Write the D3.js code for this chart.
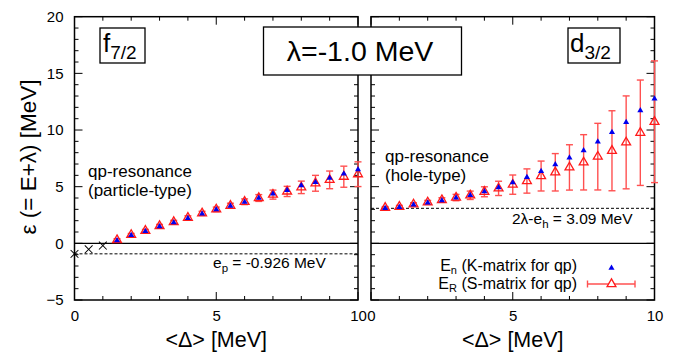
<!DOCTYPE html>
<html>
<head>
<meta charset="utf-8">
<script src="https://cdn.jsdelivr.net/npm/d3@7"></script>
<style>
  html, body { margin: 0; padding: 0; background: #fff; }
  svg { display: block; font-family: "Liberation Sans", Arial, Helvetica, sans-serif; }
</style>
</head>
<body>
<svg id="chart" width="689" height="354"></svg>
<script>
// ---- data -------------------------------------------------------------
// f7/2 panel: bound-state points below threshold (crosses)
const fBoundDelta = [0, 0.5, 1.0];
const fBoundEps   = [-0.93, -0.53, -0.2];

// f7/2 panel: qp-resonance (particle-type)
const fDelta = [1.5, 2.0, 2.5, 3.0, 3.5, 4.0, 4.5, 5.0, 5.5, 6.0, 6.5, 7.0, 7.5, 8.0, 8.5, 9.0, 9.5, 10.0];
const fEn    = [0.29, 0.75, 1.11, 1.53, 1.88, 2.26, 2.65, 3.02, 3.35, 3.70, 4.04, 4.41, 4.72, 5.15, 5.44, 5.80, 6.18, 6.56];
const fER    = [0.29, 0.75, 1.11, 1.53, 1.88, 2.26, 2.65, 3.00, 3.32, 3.67, 4.00, 4.30, 4.58, 4.94, 5.30, 5.60, 5.88, 6.10];
const fErr   = [0.12, 0.12, 0.12, 0.14, 0.15, 0.17, 0.18, 0.20, 0.22, 0.25, 0.30, 0.40, 0.45, 0.55, 0.70, 0.78, 0.93, 1.09];

// d3/2 panel: qp-resonance (hole-type)
const dDelta = [0.5, 1.0, 1.5, 2.0, 2.5, 3.0, 3.5, 4.0, 4.5, 5.0, 5.5, 6.0, 6.5, 7.0, 7.5, 8.0, 8.5, 9.0, 9.5, 10.0];
const dEn    = [3.14, 3.23, 3.44, 3.62, 3.82, 4.06, 4.28, 4.62, 4.98, 5.42, 5.88, 6.41, 7.00, 7.59, 8.23, 9.00, 9.85, 10.73, 11.76, 12.80];
const dER    = [3.14, 3.23, 3.44, 3.62, 3.82, 4.04, 4.24, 4.55, 4.85, 5.18, 5.50, 5.94, 6.27, 6.70, 7.15, 7.65, 8.17, 8.91, 9.76, 10.73];
const dErr   = [0.10, 0.12, 0.14, 0.17, 0.20, 0.28, 0.37, 0.44, 0.63, 0.85, 1.07, 1.32, 1.65, 2.00, 2.44, 2.94, 3.53, 4.10, 4.65, 5.37];

// reference levels
const epLevel = -0.926;     // e_p
const holeLevel = 3.09;     // 2λ - e_h

// axes
const xDomain = [0, 10];
const yDomain = [-5, 20];
const xMajorTicks = [0, 5, 10];
const yMajorTicks = [-5, 0, 5, 10, 15, 20];
const xMinorTicks = [0, 1, 2, 3, 4, 5, 6, 7, 8, 9, 10];
const yMinorTicks = [-5, -4, -3, -2, -1, 0, 1, 2, 3, 4, 5, 6, 7, 8, 9, 10, 11, 12, 13, 14, 15, 16, 17, 18, 19, 20];

// ---- layout -----------------------------------------------------------
const svg = d3.select("#chart");
const RED = "#ff1a1a";
const BAR = "#ff5050";
const BLUE = "#0000ee";

const y = d3.scaleLinear().domain(yDomain).range([300, 16.7]);
const xL = d3.scaleLinear().domain(xDomain).range([74.5, 358]);
const xR = d3.scaleLinear().domain(xDomain).range([371, 654.5]);

const tri = (size) => d3.symbol().type(d3.symbolTriangle).size(size);

function frame(x, leftLabels) {
  const g = svg.append("g");
  const [x0, x1] = x.range();
  const [y0, y1] = y.range();
  // inward ticks on all four sides
  const tk = g.append("g").attr("stroke", "#000").attr("stroke-width", 1);
  yMinorTicks.forEach(v => {
    const len = yMajorTicks.includes(v) ? 8 : 4;
    tk.append("line").attr("x1", x0).attr("x2", x0 + len).attr("y1", y(v)).attr("y2", y(v));
    tk.append("line").attr("x1", x1).attr("x2", x1 - len).attr("y1", y(v)).attr("y2", y(v));
  });
  xMinorTicks.forEach(v => {
    const len = xMajorTicks.includes(v) ? 8 : 4;
    tk.append("line").attr("x1", x(v)).attr("x2", x(v)).attr("y1", y0).attr("y2", y0 - len);
    tk.append("line").attr("x1", x(v)).attr("x2", x(v)).attr("y1", y1).attr("y2", y1 + len);
  });
  // tick labels via d3 axes (tick lines hidden, labels only)
  const xa = g.append("g").attr("transform", `translate(0,${y0})`)
    .call(d3.axisBottom(x).tickValues(xMajorTicks).tickFormat(d3.format("d")).tickSize(0).tickPadding(10));
  xa.select(".domain").remove();
  xa.selectAll("text").attr("font-size", 15).attr("fill", "#000").attr("font-family", "Liberation Sans, Arial, sans-serif");
  if (leftLabels) {
    const ya = g.append("g").attr("transform", `translate(${x0},0)`)
      .call(d3.axisLeft(y).tickValues(yMajorTicks).tickFormat(d3.format("d")).tickSize(0).tickPadding(11));
    ya.select(".domain").remove();
    ya.selectAll("text").attr("font-size", 15).attr("fill", "#000").attr("font-family", "Liberation Sans, Arial, sans-serif");
  }
  // zero line
  g.append("line").attr("x1", x0).attr("x2", x1).attr("y1", y(0)).attr("y2", y(0))
    .attr("stroke", "#000").attr("stroke-width", 1.2);
  // frame
  g.append("rect").attr("x", x0).attr("y", y1).attr("width", x1 - x0).attr("height", y0 - y1)
    .attr("fill", "none").attr("stroke", "#000").attr("stroke-width", 1.5);
  // x-axis title
  g.append("text").attr("x", (x0 + x1) / 2).attr("y", 347).attr("text-anchor", "middle")
    .attr("font-size", 21.5).text("<Δ> [MeV]");
  return g;
}

function series(g, x, xs, en, er, err) {
  // error bars
  const eb = g.append("g").attr("stroke", BAR).attr("stroke-width", 1.4).attr("fill", "none");
  xs.forEach((d, i) => {
    const cx = x(d), top = y(er[i] + err[i]), bot = y(er[i] - err[i]);
    eb.append("line").attr("x1", cx).attr("x2", cx).attr("y1", top).attr("y2", bot);
    eb.append("line").attr("x1", cx - 3.5).attr("x2", cx + 3.5).attr("y1", top).attr("y2", top);
    eb.append("line").attr("x1", cx - 3.5).attr("x2", cx + 3.5).attr("y1", bot).attr("y2", bot);
  });
  // S-matrix poles: open red triangles
  g.append("g").selectAll("path").data(xs).join("path")
    .attr("transform", (d, i) => `translate(${x(d)},${y(er[i])})`)
    .attr("d", tri(34)).attr("fill", "none").attr("stroke", RED).attr("stroke-width", 1.3);
  // K-matrix energies: filled blue triangles
  g.append("g").selectAll("path").data(xs).join("path")
    .attr("transform", (d, i) => `translate(${x(d)},${y(en[i]) + 0.5})`)
    .attr("d", tri(16)).attr("fill", BLUE);
}

// ---- left panel: f7/2 -------------------------------------------------
const gL = frame(xL, true);
gL.append("line").attr("x1", xL(0)).attr("x2", xL(10)).attr("y1", y(epLevel)).attr("y2", y(epLevel))
  .attr("stroke", "#000").attr("stroke-width", 1).attr("stroke-dasharray", "3,2");
series(gL, xL, fDelta, fEn, fER, fErr);
gL.append("g").selectAll("path").data(fBoundDelta).join("path")
  .attr("transform", (d, i) => `translate(${xL(d)},${y(fBoundEps[i])}) rotate(45)`)
  .attr("d", "M-5.5,0H5.5M0,-5.5V5.5").attr("stroke", "#000").attr("stroke-width", 1).attr("fill", "none");

gL.append("text").attr("x", 88).attr("y", 177).attr("font-size", 17).text("qp-resonance");
gL.append("text").attr("x", 88).attr("y", 196).attr("font-size", 17).text("(particle-type)");
const ep = gL.append("text").attr("x", 213).attr("y", 268).attr("font-size", 15.5);
ep.append("tspan").text("e");
ep.append("tspan").attr("font-size", 11.5).attr("dy", 4).text("p");
ep.append("tspan").attr("dy", -4).text(" = -0.926 MeV");

// f7/2 label box
gL.append("rect").attr("x", 100).attr("y", 28).attr("width", 45).attr("height", 35)
  .attr("fill", "#fff").attr("stroke", "#000").attr("stroke-width", 1.3);
const fl = gL.append("text").attr("x", 103).attr("y", 52).attr("font-size", 26);
fl.append("tspan").text("f");
fl.append("tspan").attr("font-size", 19).attr("dy", 7).text("7/2");

// ---- right panel: d3/2 ------------------------------------------------
const gR = frame(xR, false);
gR.append("line").attr("x1", xR(0)).attr("x2", xR(10)).attr("y1", y(holeLevel)).attr("y2", y(holeLevel))
  .attr("stroke", "#000").attr("stroke-width", 1).attr("stroke-dasharray", "3,2");
series(gR, xR, dDelta, dEn, dER, dErr);

gR.append("text").attr("x", 385).attr("y", 162).attr("font-size", 17).text("qp-resonance");
gR.append("text").attr("x", 385).attr("y", 181).attr("font-size", 17).text("(hole-type)");
const hl = gR.append("text").attr("x", 512).attr("y", 224).attr("font-size", 15.5);
hl.append("tspan").text("2λ-e");
hl.append("tspan").attr("font-size", 11.5).attr("dy", 4).text("h");
hl.append("tspan").attr("dy", -4).text(" = 3.09 MeV");

gR.append("rect").attr("x", 568).attr("y", 28).attr("width", 52).attr("height", 35)
  .attr("fill", "#fff").attr("stroke", "#000").attr("stroke-width", 1.3);
const dl = gR.append("text").attr("x", 570).attr("y", 52).attr("font-size", 26);
dl.append("tspan").text("d");
dl.append("tspan").attr("font-size", 19).attr("dy", 7).text("3/2");

// legend
const lg = gR.append("g");
const l1 = lg.append("text").attr("x", 577).attr("y", 271).attr("text-anchor", "end").attr("font-size", 16);
l1.append("tspan").text("E");
l1.append("tspan").attr("font-size", 11).attr("dy", 3).text("n");
l1.append("tspan").attr("dy", -3).text(" (K-matrix for qp)");
const l2 = lg.append("text").attr("x", 577).attr("y", 289).attr("text-anchor", "end").attr("font-size", 16);
l2.append("tspan").text("E");
l2.append("tspan").attr("font-size", 11).attr("dy", 3).text("R");
l2.append("tspan").attr("dy", -3).text(" (S-matrix for qp)");
lg.append("path").attr("transform", "translate(611.5,268)").attr("d", tri(16)).attr("fill", BLUE);
lg.append("line").attr("x1", 587.5).attr("x2", 635).attr("y1", 284).attr("y2", 284).attr("stroke", BAR).attr("stroke-width", 1.4);
lg.append("line").attr("x1", 587.5).attr("x2", 587.5).attr("y1", 280.5).attr("y2", 287.5).attr("stroke", BAR).attr("stroke-width", 1.4);
lg.append("line").attr("x1", 635).attr("x2", 635).attr("y1", 280.5).attr("y2", 287.5).attr("stroke", BAR).attr("stroke-width", 1.4);
lg.append("path").attr("transform", "translate(611.5,284)").attr("d", tri(34))
  .attr("fill", "#fff").attr("stroke", RED).attr("stroke-width", 1.3);

// ---- shared y title and λ box ----------------------------------------
svg.append("text").attr("transform", "translate(36,157) rotate(-90)").attr("text-anchor", "middle")
  .attr("font-size", 22.5).text("ε (= E+λ) [MeV]");

svg.append("rect").attr("x", 263.5).attr("y", 27).attr("width", 198).attr("height", 48)
  .attr("fill", "#fff").attr("stroke", "#000").attr("stroke-width", 1.3);
svg.append("text").attr("x", 360).attr("y", 61).attr("text-anchor", "middle")
  .attr("font-size", 28.5).text("λ=-1.0 MeV");
</script>
</body>
</html>
